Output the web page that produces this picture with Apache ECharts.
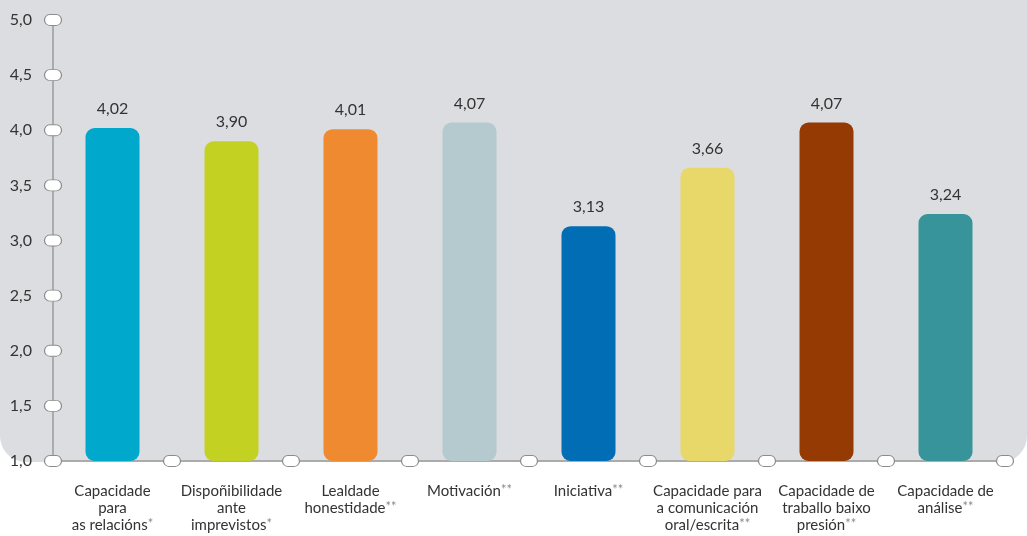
<!DOCTYPE html>
<html>
<head>
<meta charset="utf-8">
<script src="https://cdn.jsdelivr.net/npm/echarts@6/dist/echarts.min.js"></script>
<style>html,body{margin:0;padding:0;background:#fff}#c{width:1027px;height:536px}</style>
</head>
<body>
<div id="c"></div>
<script>
const categories = [
  'Capacidade\npara\nas relacións*',
  'Dispoñibilidade\nante\nimprevistos*',
  'Lealdade\nhonestidade**',
  'Motivación**',
  'Iniciativa**',
  'Capacidade para\na comunicación\noral/escrita**',
  'Capacidade de\ntraballo baixo\npresión**',
  'Capacidade de\nanálise**'
];
const values = [4.02, 3.90, 4.01, 4.07, 3.13, 3.66, 4.07, 3.24];
const barColors = ['#00a8cc', '#c3d123', '#f08a30', '#b4cacf', '#006db4', '#e8d86a', '#943a02', '#36949a'];
const yTicks = [1.0, 1.5, 2.0, 2.5, 3.0, 3.5, 4.0, 4.5, 5.0];
const yMin = 1.0, yMax = 5.0, yStep = 0.5;

const chart = echarts.init(document.getElementById('c'));
const capsule = 'path://M5,0 L11,0 A5,5 0 0 1 11,10 L5,10 A5,5 0 0 1 5,0 Z';
const markerPts = yTicks.map(v => [0, v]).concat(categories.map((c, i) => [i + 1, yMin]));
const FONT = 'Lato';

function catLabel(s) {
  return s.split('\n').map(line => {
    const m = line.match(/^(.*?)(\*+)$/);
    return m ? m[1] + '{s|' + m[2] + '}' : line;
  }).join('\n');
}

chart.setOption({
  animation: false,
  backgroundColor: '#ffffff',
  textStyle: { fontFamily: FONT },
  graphic: [{
    type: 'rect', z: -10, silent: true,
    shape: { x: 0, y: 0, width: 1027, height: 462, r: [0, 0, 26, 26] },
    style: { fill: '#dcdde0' }
  }],
  grid: { left: 53, right: 22, top: 20, bottom: 75, containLabel: false },
  xAxis: [{
    type: 'category',
    data: categories,
    axisLine: { lineStyle: { color: '#9a9a9a', width: 1.5 } },
    axisTick: { show: false },
    axisLabel: {
      interval: 0, margin: 22, color: '#333333', fontSize: 15, lineHeight: 17, fontFamily: FONT,
      formatter: catLabel,
      rich: { s: { fontSize: 13, color: '#8a8a8a', verticalAlign: 'top', lineHeight: 17, fontFamily: FONT } }
    }
  }, {
    type: 'value', min: 0, max: categories.length, show: false
  }],
  yAxis: {
    type: 'value', min: yMin, max: yMax, interval: yStep,
    axisLine: { show: true, lineStyle: { color: '#9a9a9a', width: 1.5 } },
    axisTick: { show: false },
    splitLine: { show: false },
    axisLabel: {
      margin: 21, color: '#333333', fontSize: 16, fontFamily: FONT,
      formatter: v => v.toFixed(1).replace('.', ',')
    }
  },
  series: [{
    type: 'bar',
    xAxisIndex: 0,
    barWidth: 54,
    data: values.map((v, i) => ({ value: v, itemStyle: { color: barColors[i] } })),
    itemStyle: { borderRadius: 9 },
    label: {
      show: true, position: 'top', distance: 11, color: '#333333', fontSize: 16, fontFamily: FONT,
      formatter: p => p.value.toFixed(2).replace('.', ',')
    },
    z: 2
  }, {
    type: 'scatter',
    xAxisIndex: 1,
    data: markerPts,
    symbol: capsule,
    symbolSize: [17, 11],
    clip: false,
    silent: true,
    itemStyle: { color: '#ffffff', borderColor: '#8c8c8c', borderWidth: 1, opacity: 1 },
    z: 5
  }]
});
</script>
</body>
</html>
